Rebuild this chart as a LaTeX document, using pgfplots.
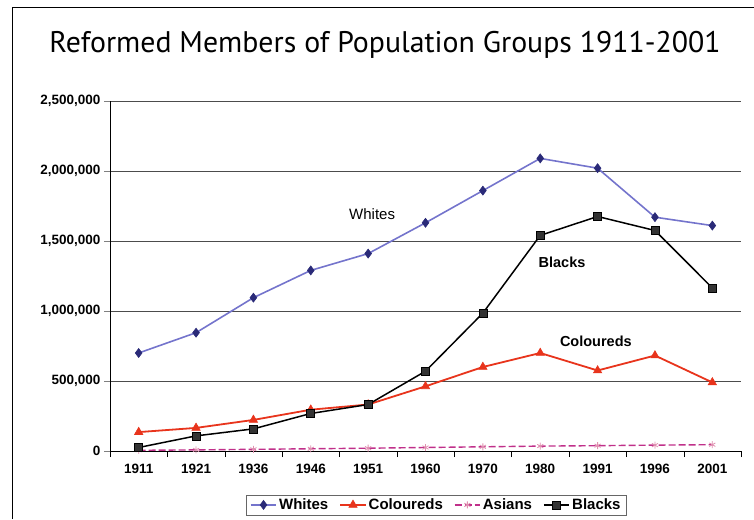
\documentclass[border=0pt]{standalone}
\usepackage{fontspec}
\setmainfont{Liberation Sans}
\newfontfamily\titlefont{PT Sans}
\usepackage{pgfplots}
\pgfplotsset{compat=1.18}
\definecolor{wline}{HTML}{7474CC}
\definecolor{wmark}{HTML}{2A2A78}
\definecolor{cline}{HTML}{E8341C}
\definecolor{aline}{HTML}{C0308A}
\definecolor{amark}{HTML}{E090B0}
\begin{document}
\begin{tikzpicture}[x=1pt,y=1pt]
\useasboundingbox (0,0) rectangle (754,519);
\draw[line width=1pt] (12,0) -- (12,511) -- (754,511);
\node[font=\titlefont\fontsize{29.8}{31}\selectfont] at (385,474) {Reformed Members of Population Groups 1911-2001};
\begin{axis}[
  at={(110pt,68pt)}, anchor=south west,
  width=631pt, height=350pt, scale only axis,
  xmin=-0.5, xmax=10.5, ymin=0, ymax=2500000,
  axis x line*=bottom, axis y line*=left,
  x axis line style={-}, y axis line style={-},
  xtick={0,...,10},
  xticklabels={1911,1921,1936,1946,1951,1960,1970,1980,1991,1996,2001},
  minor xtick={-0.5,0.5,...,10.5},
  major x tick style={draw=none},
  minor x tick style={black},
  tick align=outside,
  major tick length=6pt, minor tick length=6pt,
  ytick={0,500000,...,2500000},
  scaled y ticks=false,
  yticklabel style={/pgf/number format/.cd, fixed, 1000 sep={,}, assume math mode=true},
  ticklabel style={font=\bfseries\fontsize{13.5}{13.5}\selectfont},
  xticklabel style={yshift=-4pt},
  ymajorgrids, grid style={black!70, line width=0.6pt},
  legend style={at={(0.517,-0.154)}, anchor=center, legend columns=-1,
    draw=black!60, font=\bfseries\fontsize{15}{15}\selectfont,
    inner ysep=2pt, inner xsep=4pt,
    /tikz/every even column/.append style={column sep=9pt}},
  legend image code/.code={\draw[mark repeat=2,mark phase=2,#1] plot coordinates {(0cm,0cm) (0.45cm,0cm) (0.9cm,0cm)};},
  legend cell align=left,
]
\addplot[wline, line width=1.6pt, mark=diamond*, mark size=4.5pt, mark options={draw=wmark, fill=wmark, line width=0.6pt}] coordinates {
 (0,700000) (1,845000) (2,1095000) (3,1290000) (4,1410000) (5,1630000) (6,1860000) (7,2090000) (8,2020000) (9,1670000) (10,1610000)};
\addlegendentry{Whites}
\addplot[cline, line width=1.8pt, mark=triangle*, mark size=4.8pt, mark options={fill=cline, line width=0.6pt}] coordinates {
 (0,135000) (1,165000) (2,222000) (3,295000) (4,332000) (5,462000) (6,600000) (7,700000) (8,575000) (9,682000) (10,490000)};
\addlegendentry{Coloureds}
\addplot[aline, line width=1.4pt, dash pattern=on 7pt off 3pt, mark=asterisk, mark size=3.5pt, mark options={solid, draw=amark, line width=0.8pt}] coordinates {
 (0,5000) (1,8000) (2,12000) (3,16000) (4,20000) (5,25000) (6,30000) (7,35000) (8,38000) (9,42000) (10,45000)};
\addlegendentry{Asians}
\addplot[black, line width=1.5pt, mark=square*, mark size=4pt, mark options={fill=black!80, line width=0.6pt}] coordinates {
 (0,25000) (1,108000) (2,158000) (3,268000) (4,332000) (5,570000) (6,985000) (7,1540000) (8,1675000) (9,1575000) (10,1165000)};
\addlegendentry{Blacks}
\node[font=\fontsize{15}{15}\selectfont] at (axis cs:4.07,1693000) {Whites};
\node[font=\bfseries\fontsize{14.5}{14.5}\selectfont] at (axis cs:7.38,1350000) {Blacks};
\node[font=\bfseries\fontsize{14.5}{14.5}\selectfont] at (axis cs:7.97,786000) {Coloureds};
\end{axis}
\end{tikzpicture}
\end{document}
